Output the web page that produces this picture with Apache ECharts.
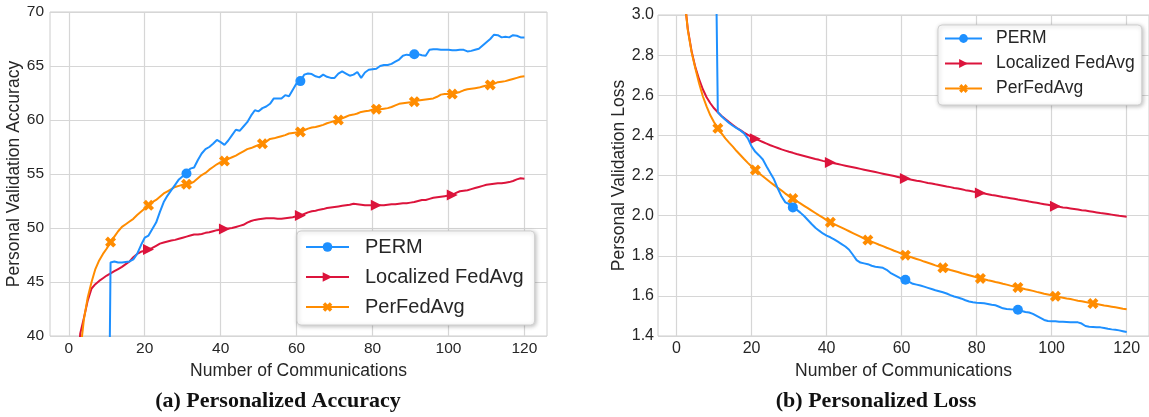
<!DOCTYPE html>
<html>
<head>
<meta charset="utf-8">
<script src="https://cdn.jsdelivr.net/npm/echarts@6/dist/echarts.min.js"></script>
<style>
html,body{margin:0;padding:0;background:#fff;}
#c{width:1149px;height:417px;}
</style>
</head>
<body>
<div id="c"></div>
<script>
// ---------- data ----------
const rounds = [1,2,3,4,5,6,7,8,9,10,11,12,13,14,15,16,17,18,19,20,21,22,23,24,25,26,27,28,29,30,
31,32,33,34,35,36,37,38,39,40,41,42,43,44,45,46,47,48,49,50,51,52,53,54,55,56,57,58,59,60,
61,62,63,64,65,66,67,68,69,70,71,72,73,74,75,76,77,78,79,80,81,82,83,84,85,86,87,88,89,90,
91,92,93,94,95,96,97,98,99,100,101,102,103,104,105,106,107,108,109,110,111,112,113,114,115,116,117,118,119,120];
const seriesNames = ['PERM', 'Localized FedAvg', 'PerFedAvg'];
const xTicks = [0, 20, 40, 60, 80, 100, 120];
const captions = ['(a) Personalized Accuracy', '(b) Personalized Loss'];

const accPERM = [10,10,10,10,10,10,10,10,10,10,
46.8,46.9,46.8,46.8,46.85,46.9,47.1,47.6,48.4,49.1,
49.3,49.9,50.5,51.5,52.4,53.0,53.5,54.0,54.5,54.8,
55.05,55.5,55.6,56.3,56.9,57.3,57.5,57.8,58.15,57.95,
57.7,58.1,58.6,59.1,59.0,59.4,59.8,60.4,60.9,60.8,
61.1,61.25,61.5,62.0,62.0,62.0,62.3,62.2,62.8,63.4,
63.6,64.2,64.3,64.25,64.05,63.95,64.2,64.0,63.9,63.9,
64.3,64.5,64.3,64.1,64.2,64.45,63.9,64.4,64.65,64.7,
64.75,65.0,65.1,65.1,65.2,65.4,65.6,65.95,66.05,66.0,
66.08,66.1,66.0,65.95,66.5,66.55,66.55,66.5,66.5,66.5,
66.45,66.45,66.5,66.5,66.35,66.4,66.5,66.6,66.9,67.2,
67.5,67.9,67.85,67.65,67.7,67.65,67.85,67.8,67.65,67.65];

const accLocal = [28,35,40.2,41.7,43.3,44.4,44.8,45.1,45.35,45.6,
45.8,46.0,46.2,46.4,46.65,46.9,47.3,47.6,47.8,47.9,
48.0,48.15,48.35,48.55,48.65,48.75,48.85,48.9,49.0,49.1,
49.2,49.3,49.4,49.4,49.45,49.55,49.6,49.7,49.8,49.85,
49.9,49.95,50.0,50.1,50.2,50.3,50.5,50.65,50.75,50.8,
50.85,50.9,50.9,50.9,50.85,50.85,50.9,50.95,51.0,51.1,
51.15,51.3,51.45,51.55,51.6,51.7,51.75,51.85,51.9,51.95,
52.0,52.05,52.1,52.15,52.25,52.2,52.15,52.1,52.1,52.1,
52.1,52.1,52.1,52.15,52.2,52.2,52.25,52.3,52.3,52.35,
52.4,52.5,52.6,52.6,52.7,52.8,52.85,52.9,52.95,53.0,
53.05,53.25,53.4,53.45,53.5,53.6,53.7,53.8,53.9,54.0,
54.05,54.1,54.15,54.15,54.2,54.25,54.35,54.5,54.6,54.55];

const accPerFed = [25,33,38.5,41.6,43.6,45.0,46.2,47.0,47.6,48.1,
48.7,49.2,49.7,50.1,50.35,50.6,50.85,51.2,51.5,51.8,
52.1,52.4,52.6,52.9,53.2,53.4,53.6,53.8,53.9,54.0,
54.05,54.1,54.3,54.6,54.9,55.1,55.4,55.65,55.9,56.1,
56.2,56.4,56.55,56.7,56.9,57.1,57.3,57.4,57.55,57.7,
57.8,58.0,58.25,58.3,58.4,58.5,58.6,58.75,58.8,58.85,
58.9,59.05,59.2,59.3,59.35,59.45,59.55,59.7,59.8,59.9,
60.0,60.15,60.3,60.45,60.5,60.6,60.75,60.8,60.85,60.95,
61.0,61.0,61.05,61.1,61.2,61.35,61.5,61.55,61.6,61.65,
61.7,61.8,61.85,61.9,61.95,62.0,62.15,62.35,62.4,62.4,
62.4,62.5,62.6,62.75,62.85,62.9,62.95,63.0,63.1,63.2,
63.25,63.35,63.5,63.55,63.6,63.7,63.8,63.9,64.0,64.05];

const lossPERM = [4.0,4.0,4.0,4.0,4.0,4.0,4.0,4.0,4.0,4.0,
2.515,2.495,2.478,2.462,2.448,2.436,2.425,2.41,2.385,2.345,
2.318,2.300,2.280,2.245,2.212,2.180,2.135,2.095,2.066,2.058,
2.041,2.030,2.015,1.998,1.978,1.958,1.940,1.925,1.911,1.900,
1.892,1.882,1.870,1.858,1.846,1.830,1.805,1.778,1.766,1.762,
1.758,1.750,1.745,1.743,1.740,1.730,1.715,1.705,1.695,1.685,
1.680,1.670,1.660,1.656,1.652,1.646,1.640,1.634,1.628,1.623,
1.618,1.612,1.604,1.597,1.592,1.586,1.578,1.572,1.568,1.566,
1.565,1.563,1.560,1.556,1.553,1.546,1.538,1.535,1.533,1.532,
1.531,1.525,1.520,1.517,1.510,1.500,1.490,1.480,1.475,1.474,
1.473,1.471,1.471,1.470,1.469,1.468,1.468,1.462,1.450,1.446,
1.445,1.444,1.443,1.440,1.436,1.433,1.431,1.428,1.424,1.420];

const lossLocal = [3.6,3.1,2.93,2.82,2.74,2.68,2.63,2.59,2.56,2.535,
2.515,2.497,2.481,2.466,2.452,2.438,2.426,2.414,2.403,2.392,
2.383,2.375,2.367,2.359,2.351,2.344,2.337,2.330,2.324,2.318,
2.313,2.307,2.302,2.297,2.292,2.287,2.282,2.278,2.273,2.269,
2.265,2.261,2.257,2.253,2.249,2.245,2.241,2.237,2.233,2.229,
2.225,2.221,2.217,2.213,2.209,2.205,2.201,2.197,2.193,2.189,
2.185,2.181,2.178,2.174,2.171,2.167,2.163,2.160,2.156,2.153,
2.149,2.145,2.142,2.138,2.135,2.131,2.127,2.124,2.120,2.117,
2.113,2.110,2.107,2.103,2.100,2.097,2.093,2.090,2.087,2.084,
2.080,2.077,2.074,2.070,2.067,2.064,2.060,2.057,2.054,2.050,
2.047,2.044,2.041,2.039,2.036,2.033,2.030,2.027,2.025,2.022,
2.019,2.016,2.013,2.011,2.008,2.005,2.002,1.999,1.997,1.994];

const lossPerFed = [3.6,3.1,2.925,2.815,2.735,2.66,2.595,2.545,2.5,2.465,
2.435,2.41,2.385,2.364,2.344,2.322,2.302,2.282,2.263,2.245,
2.227,2.211,2.196,2.181,2.166,2.152,2.138,2.125,2.110,2.097,
2.085,2.073,2.061,2.049,2.037,2.025,2.013,2.001,1.990,1.978,
1.967,1.958,1.949,1.940,1.931,1.922,1.913,1.904,1.895,1.886,
1.878,1.870,1.863,1.855,1.848,1.840,1.833,1.825,1.818,1.810,
1.803,1.797,1.790,1.784,1.778,1.771,1.765,1.759,1.752,1.746,
1.740,1.735,1.729,1.724,1.719,1.713,1.708,1.703,1.698,1.692,
1.687,1.683,1.678,1.674,1.669,1.665,1.660,1.656,1.651,1.647,
1.642,1.638,1.633,1.629,1.625,1.620,1.616,1.611,1.607,1.603,
1.598,1.594,1.591,1.587,1.584,1.580,1.576,1.573,1.569,1.566,
1.562,1.559,1.556,1.552,1.549,1.546,1.543,1.540,1.536,1.533];

// ---------- chart ----------
const FONT = '"Liberation Sans", Arial, sans-serif';
const TXT = '#262626';
const GRIDC = '#d6d6d6';
const colors = ['#1e90ff', '#dc143c', '#ff8c00'];
const xPath = 'path://M0,2.6 L2.6,0 L5,2.4 L7.4,0 L10,2.6 L7.6,5 L10,7.4 L7.4,10 L5,7.6 L2.6,10 L0,7.4 L2.4,5 Z';
const symbols = ['circle', 'triangle', xPath];
const rotates = [0, -90, 0];
const every = [30, 20, 10];
const msize = [10, 11, 11];

function pairs(vals) { return rounds.map((r, i) => [r, vals[i]]); }

function mkSeries(name, idx, vals, gi) {
  return {
    type: 'line', name: name, xAxisIndex: gi, yAxisIndex: gi,
    data: pairs(vals), clip: true, smooth: false,
    showSymbol: true, showAllSymbol: true,
    symbol: symbols[idx], symbolRotate: rotates[idx],
    symbolSize: (v, p) => (p.dataIndex % every[idx] === 0 ? msize[idx] : 0),
    itemStyle: { color: colors[idx] },
    lineStyle: { color: colors[idx], width: 2 },
    emphasis: { disabled: true }, silent: true,
    z: 3 + (idx === 0 ? 2 : idx === 1 ? 0 : 1)
  };
}

function xAxisCfg(gi, fs) {
  return {
    type: 'value', gridIndex: gi, min: -4.95, max: 125.95,
    axisLine: { show: false },
    axisTick: { show: false, customValues: xTicks },
    axisLabel: { customValues: xTicks, color: TXT, fontFamily: FONT, fontSize: fs, margin: 5 },
    splitLine: { show: true, lineStyle: { color: GRIDC, width: 1.2 } },
    name: 'Number of Communications', nameLocation: 'middle', nameGap: 17,
    nameTextStyle: { color: TXT, fontFamily: FONT, fontSize: 17.5 }
  };
}

const chart = echarts.init(document.getElementById('c'), null, { renderer: 'canvas' });
const option = {
  animation: false,
  backgroundColor: '#fff',
  grid: [
    { left: 50, top: 12, width: 497, height: 324, show: true, borderColor: '#cccccc', borderWidth: 1, containLabel: false },
    { left: 658, top: 15, width: 493, height: 321, show: true, borderColor: '#cccccc', borderWidth: 1, containLabel: false }
  ],
  xAxis: [xAxisCfg(0, 15.5), xAxisCfg(1, 16)],
  yAxis: [
    { type: 'value', gridIndex: 0, min: 40, max: 70, interval: 5,
      axisLine: { show: false }, axisTick: { show: false },
      axisLabel: { color: TXT, fontFamily: FONT, fontSize: 15.5, margin: 6 },
      splitLine: { show: true, lineStyle: { color: GRIDC, width: 1.2 } },
      name: 'Personal Validation Accuracy', nameLocation: 'middle', nameGap: 22,
      nameTextStyle: { color: TXT, fontFamily: FONT, fontSize: 17.5 } },
    { type: 'value', gridIndex: 1, min: 1.4, max: 3.0, interval: 0.2,
      axisLine: { show: false }, axisTick: { show: false },
      axisLabel: { color: TXT, fontFamily: FONT, fontSize: 16, margin: 4, formatter: v => v.toFixed(1) },
      splitLine: { show: true, lineStyle: { color: GRIDC, width: 1.2 } },
      name: 'Personal Validation Loss', nameLocation: 'middle', nameGap: 29,
      nameTextStyle: { color: TXT, fontFamily: FONT, fontSize: 17.5 } }
  ],
  legend: [
    { data: seriesNames, orient: 'vertical', left: 297, top: 231,
      itemWidth: 43, itemHeight: 12, itemGap: 8,
      padding: [5, 11, 7, 8],
      backgroundColor: '#fff', borderColor: '#d0d0d0', borderWidth: 1, borderRadius: 4,
      shadowBlur: 4, shadowColor: 'rgba(0,0,0,0.25)', shadowOffsetX: 1, shadowOffsetY: 1,
      textStyle: { color: TXT, fontFamily: FONT, fontSize: 20, lineHeight: 22, padding: [0, 0, 0, 11] },
      selectedMode: false },
    { data: seriesNames, orient: 'vertical', left: 938, top: 25,
      itemWidth: 37, itemHeight: 11, itemGap: 4,
      padding: [3, 7, 6, 6],
      backgroundColor: '#fff', borderColor: '#d0d0d0', borderWidth: 1, borderRadius: 4,
      shadowBlur: 4, shadowColor: 'rgba(0,0,0,0.25)', shadowOffsetX: 1, shadowOffsetY: 1,
      textStyle: { color: TXT, fontFamily: FONT, fontSize: 17.5, lineHeight: 21, padding: [0, 0, 0, 9] },
      selectedMode: false }
  ],
  graphic: [
    { type: 'text', x: 278, y: 401, silent: true,
      style: { text: captions[0], font: 'bold 22px "Liberation Serif", serif', fill: '#111', align: 'center', verticalAlign: 'middle' } },
    { type: 'text', x: 876, y: 401, silent: true,
      style: { text: captions[1], font: 'bold 22px "Liberation Serif", serif', fill: '#111', align: 'center', verticalAlign: 'middle' } }
  ],
  series: [
    mkSeries(seriesNames[0], 0, accPERM, 0),
    mkSeries(seriesNames[1], 1, accLocal, 0),
    mkSeries(seriesNames[2], 2, accPerFed, 0),
    mkSeries(seriesNames[0], 0, lossPERM, 1),
    mkSeries(seriesNames[1], 1, lossLocal, 1),
    mkSeries(seriesNames[2], 2, lossPerFed, 1)
  ]
};
chart.setOption(option);
</script>
</body>
</html>
